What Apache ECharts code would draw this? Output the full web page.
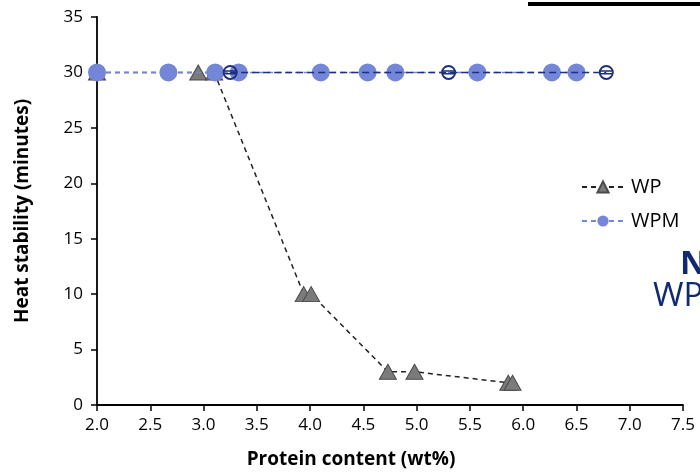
<!DOCTYPE html>
<html>
<head>
<meta charset="utf-8">
<script src="https://cdn.jsdelivr.net/npm/echarts@6/dist/echarts.min.js"></script>
<style>html,body{margin:0;padding:0;background:#fff;}#c{width:700px;height:472px;}</style>
</head>
<body>
<div id="c"></div>
<script>
// Data
var xTickLabels = ['2.0','2.5','3.0','3.5','4.0','4.5','5.0','5.5','6.0','6.5','7.0','7.5'];
var yTickLabels = ['0','5','10','15','20','25','30','35'];
var wpX = [2.0, 2.95, 3.1, 3.94, 4.01, 4.73, 4.98, 5.86, 5.9];
var wpY = [30, 30, 30, 10, 10, 3, 3, 2, 2];
var wpmX = [2.0, 2.67, 3.11, 3.33, 4.1, 4.54, 4.8, 5.57, 6.27, 6.5];
var wpmY = [30, 30, 30, 30, 30, 30, 30, 30, 30, 30];
var wpmOpenX = [3.25, 5.3, 6.78];
var wpmOpenY = [30, 30, 30];

function pairs(xs, ys){ return xs.map(function(x,i){ return [x, ys[i]]; }); }

var navy = '#1f2f7f';
var light = '#7486d8';
var font = 'Open Sans';
var stripedCircle = 'path://M0,10 A10,10 0 1,1 20,10 A10,10 0 1,1 0,10 Z M2.6,10 A7.4,7.4 0 1,0 17.4,10 A7.4,7.4 0 1,0 2.6,10 Z M1,7.2 L19,7.2 L19,9.2 L1,9.2 Z M1,10.8 L19,10.8 L19,12.8 L1,12.8 Z';

var chart = echarts.init(document.getElementById('c'), null, {renderer:'canvas'});
chart.setOption({
  animation: false,
  textStyle: {fontFamily: font},
  grid: {left: 97, right: 17, top: 17, bottom: 67, containLabel: false, outerBoundsMode: 'none'},
  legend: {
    data: ['WP', 'WPM'],
    orient: 'vertical',
    left: 576, top: 172,
    itemWidth: 42, itemHeight: 14, itemGap: 14,
    textStyle: {fontFamily: font, fontSize: 20, color: '#000', padding: [0,0,0,2]}
  },
  xAxis: {
    type: 'value', min: 2, max: 7.5, interval: 0.5,
    name: 'Protein content (wt%)', nameLocation: 'middle', nameGap: 45,
    nameTextStyle: {fontFamily: font, fontSize: 19, fontWeight: 'bold', color: '#000', padding: [0, 78, 0, 0]},
    axisLine: {show: true, onZero: false, lineStyle: {color: '#000', width: 1.8}},
    axisTick: {show: true, inside: false, length: 6, lineStyle: {color: '#000', width: 1.5}},
    axisLabel: {fontSize: 17, color: '#000', margin: 12, formatter: function(v){ var i = Math.round((v-2)/0.5); return xTickLabels[i] || ''; }},
    splitLine: {show: false}
  },
  yAxis: {
    type: 'value', min: 0, max: 35, interval: 5,
    name: 'Heat stability (minutes)', nameLocation: 'middle', nameGap: 65,
    nameTextStyle: {fontFamily: font, fontSize: 19, fontWeight: 'bold', color: '#000'},
    axisLine: {show: true, lineStyle: {color: '#000', width: 1.8}},
    axisTick: {show: true, inside: false, length: 6, lineStyle: {color: '#000', width: 1.5}},
    axisLabel: {fontSize: 17, color: '#000', margin: 14, formatter: function(v){ return yTickLabels[Math.round(v/5)] || ''; }},
    splitLine: {show: false}
  },
  series: [
    {
      name: 'WP', type: 'line', data: pairs(wpX, wpY),
      symbol: 'triangle', symbolSize: [17, 15],
      itemStyle: {color: '#7b7b7b', borderColor: '#4a4a4a', borderWidth: 1},
      lineStyle: {color: '#222', width: 1.5, type: [5, 4]},
      z: 2
    },
    {
      name: 'WPM', type: 'line', data: pairs(wpmX, wpmY),
      symbol: 'circle', symbolSize: 18,
      itemStyle: {color: light, borderWidth: 0},
      lineStyle: {color: light, width: 1.5, type: [5, 4]},
      z: 3
    },
    {
      name: 'WPM open', type: 'line', data: pairs(wpmOpenX, wpmOpenY),
      symbol: stripedCircle, symbolSize: 15,
      itemStyle: {color: navy, borderWidth: 0},
      lineStyle: {color: navy, width: 1.5, type: [7, 4]},
      z: 4
    }
  ],
  graphic: [
    {type: 'rect', shape: {x: 528, y: 2, width: 172, height: 4}, style: {fill: '#000'}},
    {type: 'text', left: 680, top: 248, style: {text: 'N', fontFamily: font, fontSize: 33, fontWeight: 'bold', fill: '#0f2a6e'}},
    {type: 'text', left: 653, top: 280, style: {text: 'WP', fontFamily: font, fontSize: 33, fill: '#0f2a6e'}}
  ]
});
</script>
</body>
</html>
